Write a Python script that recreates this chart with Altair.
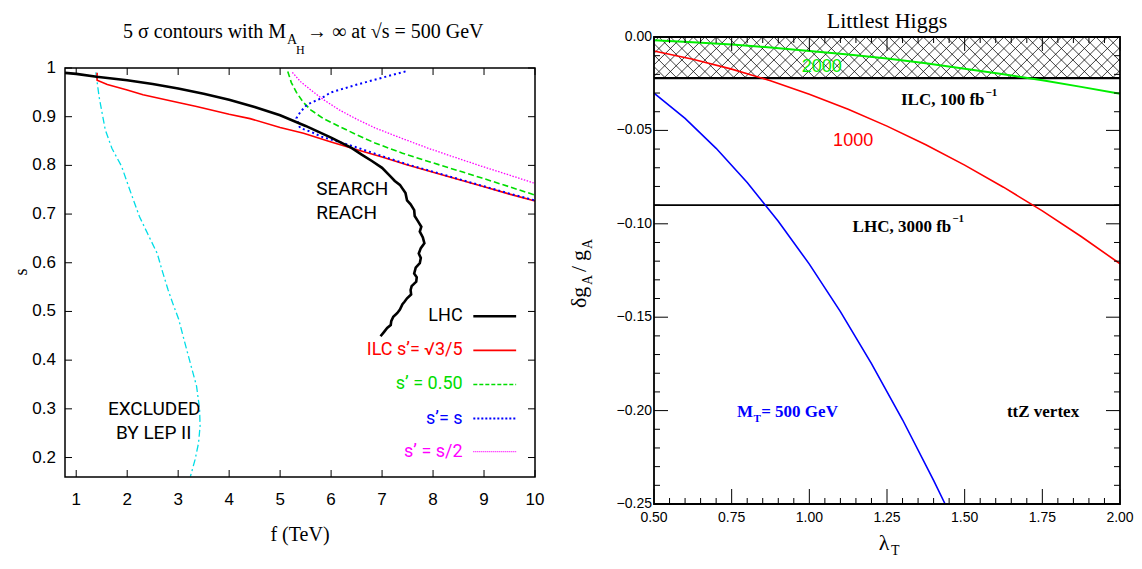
import altair as alt
import pandas as pd
import numpy as np

# ===================== LEFT PANEL DATA (f in TeV, s) =====================
lhc_f = [0.78, 1.0, 1.4, 2.0, 2.5, 3.0, 3.5, 4.0, 4.5, 5.0, 5.5, 6.0, 6.4, 6.6, 6.8, 7.0, 7.14, 7.25, 7.35, 7.46,
         7.49, 7.56, 7.63, 7.64, 7.70, 7.77, 7.74, 7.80, 7.83, 7.76, 7.72, 7.76, 7.74, 7.66, 7.63, 7.68, 7.67, 7.58,
         7.56, 7.57, 7.49, 7.44, 7.40, 7.35, 7.30, 7.22, 7.18, 7.17, 7.10, 7.04, 6.97]
lhc_s = [0.990, 0.988, 0.982, 0.975, 0.967, 0.958, 0.947, 0.935, 0.920, 0.903, 0.881, 0.857, 0.836, 0.822, 0.809,
         0.795, 0.780, 0.768, 0.760, 0.743, 0.728, 0.720, 0.708, 0.696, 0.686, 0.674, 0.664, 0.652, 0.640, 0.630,
         0.619, 0.610, 0.599, 0.590, 0.578, 0.570, 0.561, 0.552, 0.544, 0.535, 0.527, 0.520, 0.515, 0.504, 0.497,
         0.489, 0.480, 0.472, 0.466, 0.458, 0.449]

ilc_f = [1.41, 1.41, 1.61, 2.0, 2.31, 3.0, 3.36, 4.0, 4.41, 5.0, 5.46, 6.0, 6.51, 7.0, 7.5, 8.0, 8.5, 9.0, 9.5, 10.0]
ilc_s = [0.990, 0.975, 0.966, 0.955, 0.945, 0.929, 0.921, 0.905, 0.896, 0.878, 0.866, 0.848, 0.832, 0.817, 0.801,
         0.786, 0.771, 0.756, 0.741, 0.727]

s050_f = [5.15, 5.22, 5.32, 5.45, 5.60, 5.85, 6.16, 6.5, 6.86, 7.4, 7.91, 8.5, 8.96, 9.5, 10.0]
s050_s = [0.993, 0.970, 0.950, 0.930, 0.914, 0.896, 0.880, 0.863, 0.846, 0.825, 0.808, 0.789, 0.774, 0.756, 0.739]

shalf_f = [5.24, 5.40, 5.60, 5.85, 6.16, 6.5, 6.86, 7.4, 7.91, 8.5, 8.96, 9.5, 10.0]
shalf_s = [0.991, 0.972, 0.955, 0.935, 0.914, 0.895, 0.877, 0.855, 0.835, 0.814, 0.798, 0.780, 0.763]

seqs_f = [7.46, 7.0, 6.51, 6.0, 5.81, 5.53, 5.40, 5.32, 5.39, 5.6, 5.81, 6.1, 6.44, 7.0, 7.5, 8.0, 8.5, 9.0, 9.5, 10.0]
seqs_s = [0.993, 0.980, 0.966, 0.950, 0.938, 0.925, 0.910, 0.897, 0.877, 0.869, 0.859, 0.850, 0.839, 0.819, 0.802,
          0.787, 0.772, 0.757, 0.742, 0.728]

lep_f = [1.385, 1.45, 1.57, 1.70, 1.89, 2.05, 2.24, 2.40, 2.59, 2.68, 2.80, 2.90, 3.01, 3.12, 3.22, 3.36, 3.42,
         3.43, 3.40, 3.33, 3.24]
lep_s = [0.991, 0.940, 0.873, 0.835, 0.798, 0.750, 0.695, 0.660, 0.619, 0.586, 0.545, 0.515, 0.484, 0.440, 0.401,
         0.347, 0.300, 0.265, 0.230, 0.195, 0.161]

left_f_domain = [0.78, 10.0]
left_s_domain = [0.16, 1.0]
left_xticks = [1, 2, 3, 4, 5, 6, 7, 8, 9, 10]
left_xlabels = ["1", "2", "3", "4", "5", "6", "7", "8", "9", "10"]
left_yticks = [0.2, 0.3, 0.4, 0.5, 0.6, 0.7, 0.8, 0.9, 1.0]
left_ylabels = ["0.2", "0.3", "0.4", "0.5", "0.6", "0.7", "0.8", "0.9", "1"]

legend_labels = ["LHC", "ILC s\u2019= \u221a3/5", "s\u2019 = 0.50", "s\u2019= s", "s\u2019 = s/2"]
legend_s = [0.490, 0.420, 0.350, 0.280, 0.212]
legend_text_f = 8.58
legend_line_f = [8.79, 9.63]

# ===================== RIGHT PANEL DATA (lambda_T, dg_A/g_A) =====================
lam = [0.5, 0.625, 0.75, 0.875, 1.0, 1.125, 1.25, 1.375, 1.5, 1.625, 1.75, 1.875, 2.0]
g2000 = [-0.0018, -0.0028, -0.0040, -0.0056, -0.0075, -0.0094, -0.0115, -0.0141, -0.0170, -0.0200, -0.0232,
         -0.0267, -0.0304]
r1000 = [-0.0075, -0.0119, -0.0172, -0.0234, -0.0306, -0.0387, -0.0477, -0.0577, -0.0686, -0.0804, -0.0931,
         -0.1068, -0.1214]
lam_b = [0.5, 0.6, 0.7, 0.8, 0.9, 1.0, 1.1, 1.2, 1.3, 1.4, 1.437]
b500 = [-0.030, -0.0436, -0.0596, -0.0779, -0.0986, -0.1216, -0.1470, -0.1748, -0.2049, -0.2374, -0.2500]

ilc_bound = -0.022
lhc_bound = -0.090

right_l_domain = [0.5, 2.0]
right_d_domain = [-0.25, 0.0]
right_xticks = [0.5, 0.75, 1.0, 1.25, 1.5, 1.75, 2.0]
right_xlabels = ["0.50", "0.75", "1.00", "1.25", "1.50", "1.75", "2.00"]
right_yticks = [0.0, -0.05, -0.10, -0.15, -0.20, -0.25]
right_ylabels = ["0.00", "\u22120.05", "\u22120.10", "\u22120.15", "\u22120.20", "\u22120.25"]

# ===================== STYLE / LAYOUT =====================
W, H = 1126, 549
L_X0, L_X1, L_Y0, L_Y1 = 57, 527, 60, 469
R_X0, R_X1, R_Y0, R_Y1 = 646, 1112, 29, 496

SANS = "Liberation Sans, Arial, Helvetica, sans-serif"
NARROW = "Roboto, Liberation Sans, Arial, sans-serif"
SERIF = "Liberation Serif, Times New Roman, serif"

RED = "#ff0000"
GREEN_L = "#00dd00"
GREEN_R = "#00ee00"
BLUE = "#0000ff"
MAGENTA = "#ff00ff"
CYAN = "#00dde6"

lx = alt.Scale(domain=left_f_domain, range=[L_X0, L_X1], nice=False, zero=False)
ly = alt.Scale(domain=left_s_domain, range=[L_Y1, L_Y0], nice=False, zero=False)
rx = alt.Scale(domain=right_l_domain, range=[R_X0, R_X1], nice=False, zero=False)
ry = alt.Scale(domain=right_d_domain, range=[R_Y1, R_Y0], nice=False, zero=False)


def sx(panel):
    return lx if panel == "L" else rx


def sy(panel):
    return ly if panel == "L" else ry


def X(panel, field="x"):
    return alt.X(f"{field}:Q", scale=sx(panel), axis=None)


def Y(panel, field="y"):
    return alt.Y(f"{field}:Q", scale=sy(panel), axis=None)


def curve(panel, xs, ys, color, width, dash=None):
    df = pd.DataFrame({"x": xs, "y": ys, "i": list(range(len(xs)))})
    kw = dict(color=color, strokeWidth=width, strokeCap="butt")
    if dash:
        kw["strokeDash"] = dash
    return alt.Chart(df).mark_line(**kw).encode(x=X(panel), y=Y(panel), order="i:Q")


def ptext(txt, x, y, size, font=SERIF, color="black", align="center", baseline="alphabetic", angle=0, weight="normal"):
    return alt.Chart(pd.DataFrame({"t": [txt]})).mark_text(
        font=font, fontSize=size, color=color, align=align, baseline=baseline, angle=angle, fontWeight=weight
    ).encode(x=alt.value(x), y=alt.value(y), text="t:N")


def dtext(panel, txt, xv, yv, size, font, color="black", align="center", baseline="middle", weight="normal"):
    return alt.Chart(pd.DataFrame({"x": [xv], "y": [yv], "t": [txt]})).mark_text(
        font=font, fontSize=size, color=color, align=align, baseline=baseline, fontWeight=weight
    ).encode(x=X(panel), y=Y(panel), text="t:N")


layers = []

# ---------- right panel hatched band ----------
px_per_l = (R_X1 - R_X0) / (right_l_domain[1] - right_l_domain[0])
band_px = (R_Y1 - R_Y0) * (0 - ilc_bound) / (right_d_domain[1] - right_d_domain[0])
dl = band_px / px_per_l
step = 11.5 / px_per_l
rows = []
for k in np.arange(right_l_domain[0] - dl - step, right_l_domain[1] + dl + step, step):
    for d in (1, -1):
        ta = (right_l_domain[0] - k) / (d * dl)
        tb = (right_l_domain[1] - k) / (d * dl)
        lo, hi = max(0.0, min(ta, tb)), min(1.0, max(ta, tb))
        if hi - lo > 1e-6:
            rows.append(dict(x=k + d * dl * lo, y=ilc_bound * lo, x2=k + d * dl * hi, y2=ilc_bound * hi))
hatch = alt.Chart(pd.DataFrame(rows)).mark_rule(color="black", strokeWidth=0.75).encode(
    x=X("R"), y=Y("R"), x2=alt.X2("x2"), y2=alt.Y2("y2"))
layers.append(hatch)

bounds_df = pd.DataFrame({"x": [right_l_domain[0]] * 2, "x2": [right_l_domain[1]] * 2,
                          "y": [ilc_bound, lhc_bound], "w": [2.2, 1.6]})
layers.append(alt.Chart(bounds_df).mark_rule(color="black").encode(
    x=X("R"), x2=alt.X2("x2"), y=Y("R"), strokeWidth=alt.StrokeWidth("w:Q", scale=None)))

# ---------- right panel curves ----------
layers.append(curve("R", lam, r1000, RED, 1.6))
layers.append(curve("R", lam, g2000, GREEN_R, 2.0))
layers.append(curve("R", lam_b, b500, BLUE, 1.6))

# ---------- left panel curves ----------
layers.append(curve("L", lep_f, lep_s, CYAN, 1.3, [7, 3, 2, 3]))
layers.append(curve("L", s050_f, s050_s, GREEN_L, 1.6, [6, 3]))
layers.append(curve("L", shalf_f, shalf_s, MAGENTA, 1.3, [1.5, 1.5]))
layers.append(curve("L", ilc_f, ilc_s, RED, 1.6))
layers.append(curve("L", seqs_f, seqs_s, BLUE, 2.0, [2, 3]))
layers.append(curve("L", lhc_f, lhc_s, "black", 2.6))

# ---------- frames ----------
for panel, xd, yd, w in (("L", left_f_domain, left_s_domain, 1.5), ("R", right_l_domain, right_d_domain, 1.8)):
    fdf = pd.DataFrame({"x": [xd[0]], "x2": [xd[1]], "y": [yd[0]], "y2": [yd[1]]})
    layers.append(alt.Chart(fdf).mark_rect(fillOpacity=0, stroke="black", strokeWidth=w).encode(
        x=X(panel), x2=alt.X2("x2"), y=Y(panel), y2=alt.Y2("y2")))


# ---------- ticks (inward) ----------
def xticks(panel, vals, y0, y1, w=1.0):
    return alt.Chart(pd.DataFrame({"x": vals})).mark_rule(color="black", strokeWidth=w).encode(
        x=X(panel), y=alt.value(y0), y2=alt.value(y1))


def yticks(panel, vals, x0, x1, w=1.0):
    return alt.Chart(pd.DataFrame({"y": vals})).mark_rule(color="black", strokeWidth=w).encode(
        y=Y(panel), x=alt.value(x0), x2=alt.value(x1))


layers += [xticks("L", left_xticks, L_Y1, L_Y1 - 7), xticks("L", left_xticks, L_Y0, L_Y0 + 7),
           yticks("L", left_yticks, L_X0, L_X0 + 7), yticks("L", left_yticks, L_X1, L_X1 - 7)]

r_minor_x = [v for v in np.round(np.arange(0.5, 2.0001, 0.05), 2) if v not in right_xticks]
r_minor_y = [v for v in np.round(np.arange(-0.25, 0.0001, 0.01), 2) if v not in np.round(right_yticks, 2)]
layers += [xticks("R", right_xticks, R_Y1, R_Y1 - 15), xticks("R", right_xticks, R_Y0, R_Y0 + 14),
           xticks("R", r_minor_x, R_Y1, R_Y1 - 6), xticks("R", r_minor_x, R_Y0, R_Y0 + 6),
           yticks("R", right_yticks, R_X0, R_X0 + 14), yticks("R", right_yticks, R_X1, R_X1 - 14),
           yticks("R", r_minor_y, R_X0, R_X0 + 6), yticks("R", r_minor_y, R_X1, R_X1 - 6)]

# ---------- tick labels ----------
layers.append(alt.Chart(pd.DataFrame({"x": left_xticks, "t": left_xlabels})).mark_text(
    font=SANS, fontSize=17, baseline="middle", align="center").encode(x=X("L"), y=alt.value(492), text="t:N"))
layers.append(alt.Chart(pd.DataFrame({"y": left_yticks, "t": left_ylabels})).mark_text(
    font=SANS, fontSize=17, baseline="middle", align="right").encode(y=Y("L"), x=alt.value(48), text="t:N"))
layers.append(alt.Chart(pd.DataFrame({"x": right_xticks, "t": right_xlabels})).mark_text(
    font=SANS, fontSize=14, baseline="middle", align="center").encode(x=X("R"), y=alt.value(510), text="t:N"))
layers.append(alt.Chart(pd.DataFrame({"y": right_yticks, "t": right_ylabels})).mark_text(
    font=SANS, fontSize=14, baseline="middle", align="right").encode(y=Y("R"), x=alt.value(644), text="t:N"))

# ---------- left legend (inside plot) ----------
leg_colors = ["black", RED, GREEN_L, BLUE, MAGENTA]
leg_dash = [None, None, [4, 2], [2, 2], [1, 1]]
leg_w = [2.6, 1.6, 1.6, 2.0, 1.3]
for lab, sv, c, dsh, w in zip(legend_labels, legend_s, leg_colors, leg_dash, leg_w):
    layers.append(dtext("L", lab, legend_text_f, sv, 18, NARROW, color=c, align="right"))
    kw = dict(color=c, strokeWidth=w)
    if dsh:
        kw["strokeDash"] = dsh
    layers.append(alt.Chart(pd.DataFrame({"x": [legend_line_f[0]], "x2": [legend_line_f[1]], "y": [sv]}))
                  .mark_rule(**kw).encode(x=X("L"), x2=alt.X2("x2"), y=Y("L")))

# ---------- left panel annotations ----------
layers.append(dtext("L", "SEARCH", 5.71, 0.752, 19, NARROW, align="left"))
layers.append(dtext("L", "REACH", 5.71, 0.702, 19, NARROW, align="left"))
layers.append(dtext("L", "EXCLUDED", 2.53, 0.300, 19, NARROW))
layers.append(dtext("L", "BY LEP II", 2.52, 0.251, 19, NARROW))

# ---------- right panel annotations ----------
BOLD = SERIF
layers.append(dtext("R", "ILC, 100 fb", 1.564, -0.0339, 17, BOLD, align="right", weight="bold"))
layers.append(dtext("R", "\u22121", 1.567, -0.0298, 11, BOLD, align="left", weight="bold"))
layers.append(dtext("R", "LHC, 3000 fb", 1.457, -0.1018, 17, BOLD, align="right", weight="bold"))
layers.append(dtext("R", "\u22121", 1.460, -0.0973, 11, BOLD, align="left", weight="bold"))
layers.append(dtext("R", "1000", 1.141, -0.0557, 18, SANS, color=RED))
layers.append(dtext("R", "2000", 1.040, -0.0160, 18, SANS, color=GREEN_R))
layers.append(dtext("R", "M", 0.819, -0.2010, 17, BOLD, color=BLUE, align="right", weight="bold"))
layers.append(dtext("R", "T", 0.820, -0.2045, 11, BOLD, color=BLUE, align="left", weight="bold"))
layers.append(dtext("R", "= 500 GeV", 0.845, -0.2010, 17, BOLD, color=BLUE, align="left", weight="bold"))
layers.append(dtext("R", "ttZ vertex", 1.636, -0.2010, 17, BOLD, align="left", weight="bold"))

# ---------- titles & axis titles ----------
layers.append(ptext("5 \u03c3 contours with M", 278, 30, 20, align="right"))
layers.append(ptext("A", 279, 36, 14, align="left"))
layers.append(ptext("H", 288, 46, 12, align="left"))
layers.append(ptext("\u2192 \u221e at \u221as = 500 GeV", 299, 30, 20, align="left"))
layers.append(ptext("f (TeV)", 292, 533, 20))
layers.append(ptext("s", 19, 264, 18, angle=270))

layers.append(ptext("Littlest Higgs", 879, 20, 22))
layers.append(ptext("\u03bb", 876, 542, 22))
layers.append(ptext("T", 883, 547, 14, align="left"))
layers.append(ptext("\u03b4g", 578, 300, 22, align="left", angle=270))
layers.append(ptext("A", 584, 277, 14, align="left", angle=270))
layers.append(ptext("/", 578, 264, 22, align="left", angle=270))
layers.append(ptext("g", 578, 253, 22, align="left", angle=270))
layers.append(ptext("A", 584, 241, 14, align="left", angle=270))

chart = alt.layer(*layers).resolve_scale(x="independent", y="independent").properties(
    width=W, height=H, padding=0, autosize=alt.AutoSizeParams(type="none")
).configure_view(stroke=None)

chart.save("out.html", embed_options={"renderer": "svg", "actions": False})
